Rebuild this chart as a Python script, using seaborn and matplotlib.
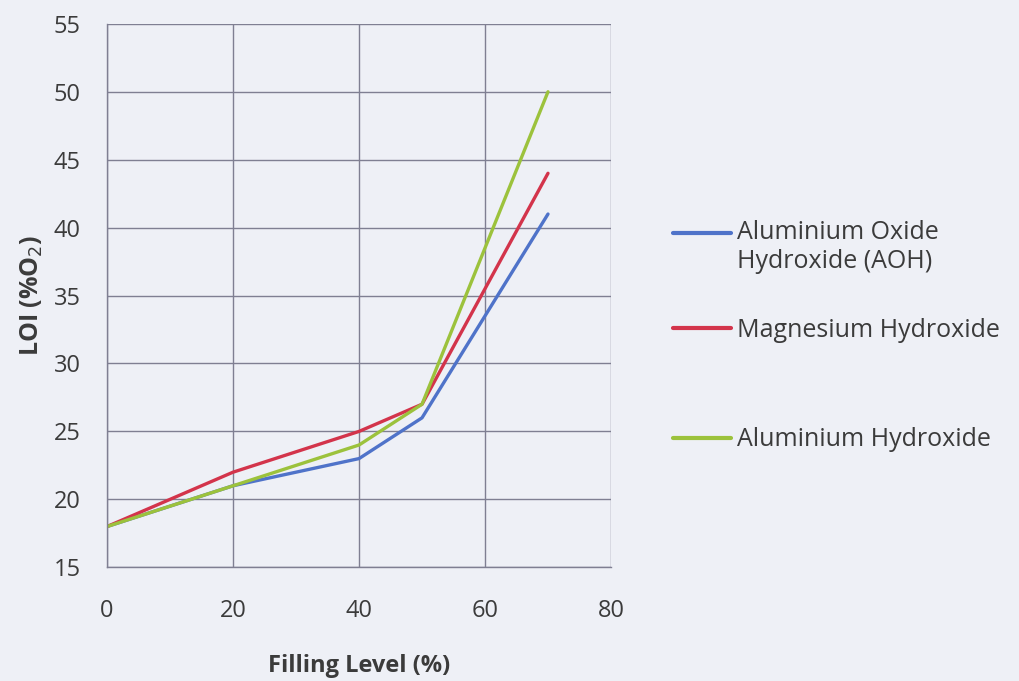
import pandas as pd
import matplotlib.pyplot as plt
import seaborn as sns

# values
filling_level = [0, 20, 40, 50, 70]
aoh = [18, 21, 23, 26, 41]
mg_hydroxide = [18, 22, 25, 27, 44]
al_hydroxide = [18, 21, 24, 27, 50]

series_names = ["Aluminium Oxide\nHydroxide (AOH)", "Magnesium Hydroxide", "Aluminium Hydroxide"]
series_colors = ["#4f73c9", "#d3344b", "#9cc23c"]

df = pd.DataFrame({
    "Filling Level": filling_level * 3,
    "LOI": aoh + mg_hydroxide + al_hydroxide,
    "Filler": [series_names[0]] * 5 + [series_names[1]] * 5 + [series_names[2]] * 5,
})

sns.set_style("white")
plt.rcParams["font.family"] = ["Open Sans", "DejaVu Sans"]
bg = "#eef0f6"
grid_col = "#7f7f92"
text_col = "#3b3b3b"

fig = plt.figure(figsize=(10.2, 6.81), dpi=100, facecolor=bg)
ax = fig.add_axes([0.105, 0.167, 0.494, 0.798])
ax.set_facecolor(bg)

sns.lineplot(data=df, x="Filling Level", y="LOI", hue="Filler", palette=series_colors,
             linewidth=2.4, ax=ax, legend=True)

ax.set_xlim(0, 80)
ax.set_ylim(15, 55)
ax.set_xticks(range(0, 81, 20))
ax.set_yticks(range(15, 56, 5))
ax.grid(True, color=grid_col, linewidth=1.0)
ax.set_axisbelow(True)
for side in ["top", "right"]:
    ax.spines[side].set_visible(False)
for side in ["left", "bottom"]:
    ax.spines[side].set_color(grid_col)
    ax.spines[side].set_linewidth(1.0)
ax.tick_params(axis="both", which="major", length=7, width=1.0, color=grid_col,
               labelsize=17, labelcolor=text_col, direction="out")
ax.tick_params(axis="y", pad=12)
ax.tick_params(axis="x", pad=16)

ax.set_xlabel("Filling Level (%)", fontsize=17, fontweight="bold", color=text_col, labelpad=22)
ax.set_ylabel("LOI (%O$_2$)", fontsize=18, fontweight="bold", color=text_col, labelpad=6)

# one legend per entry so the uneven spacing of the original can be kept
handles, labels = ax.get_legend_handles_labels()
ax.get_legend().remove()
legend_y = [0.637, 0.515, 0.354]
for h, lab, yy in zip(handles, labels, legend_y):
    leg = fig.legend([h], [lab], loc="center left", bbox_to_anchor=(0.66, yy), frameon=False,
                     fontsize=18, handlelength=2.3, handletextpad=0.25,
                     borderpad=0, borderaxespad=0)
    leg.get_texts()[0].set_color(text_col)
    line = leg.get_lines()[0]
    line.set_linewidth(3)
    if "\n" in lab:
        # the original puts the key next to the first line of a wrapped label
        line.set_ydata([v + 10.5 for v in line.get_ydata()])

fig.savefig("out.png", dpi=100, facecolor=bg)
